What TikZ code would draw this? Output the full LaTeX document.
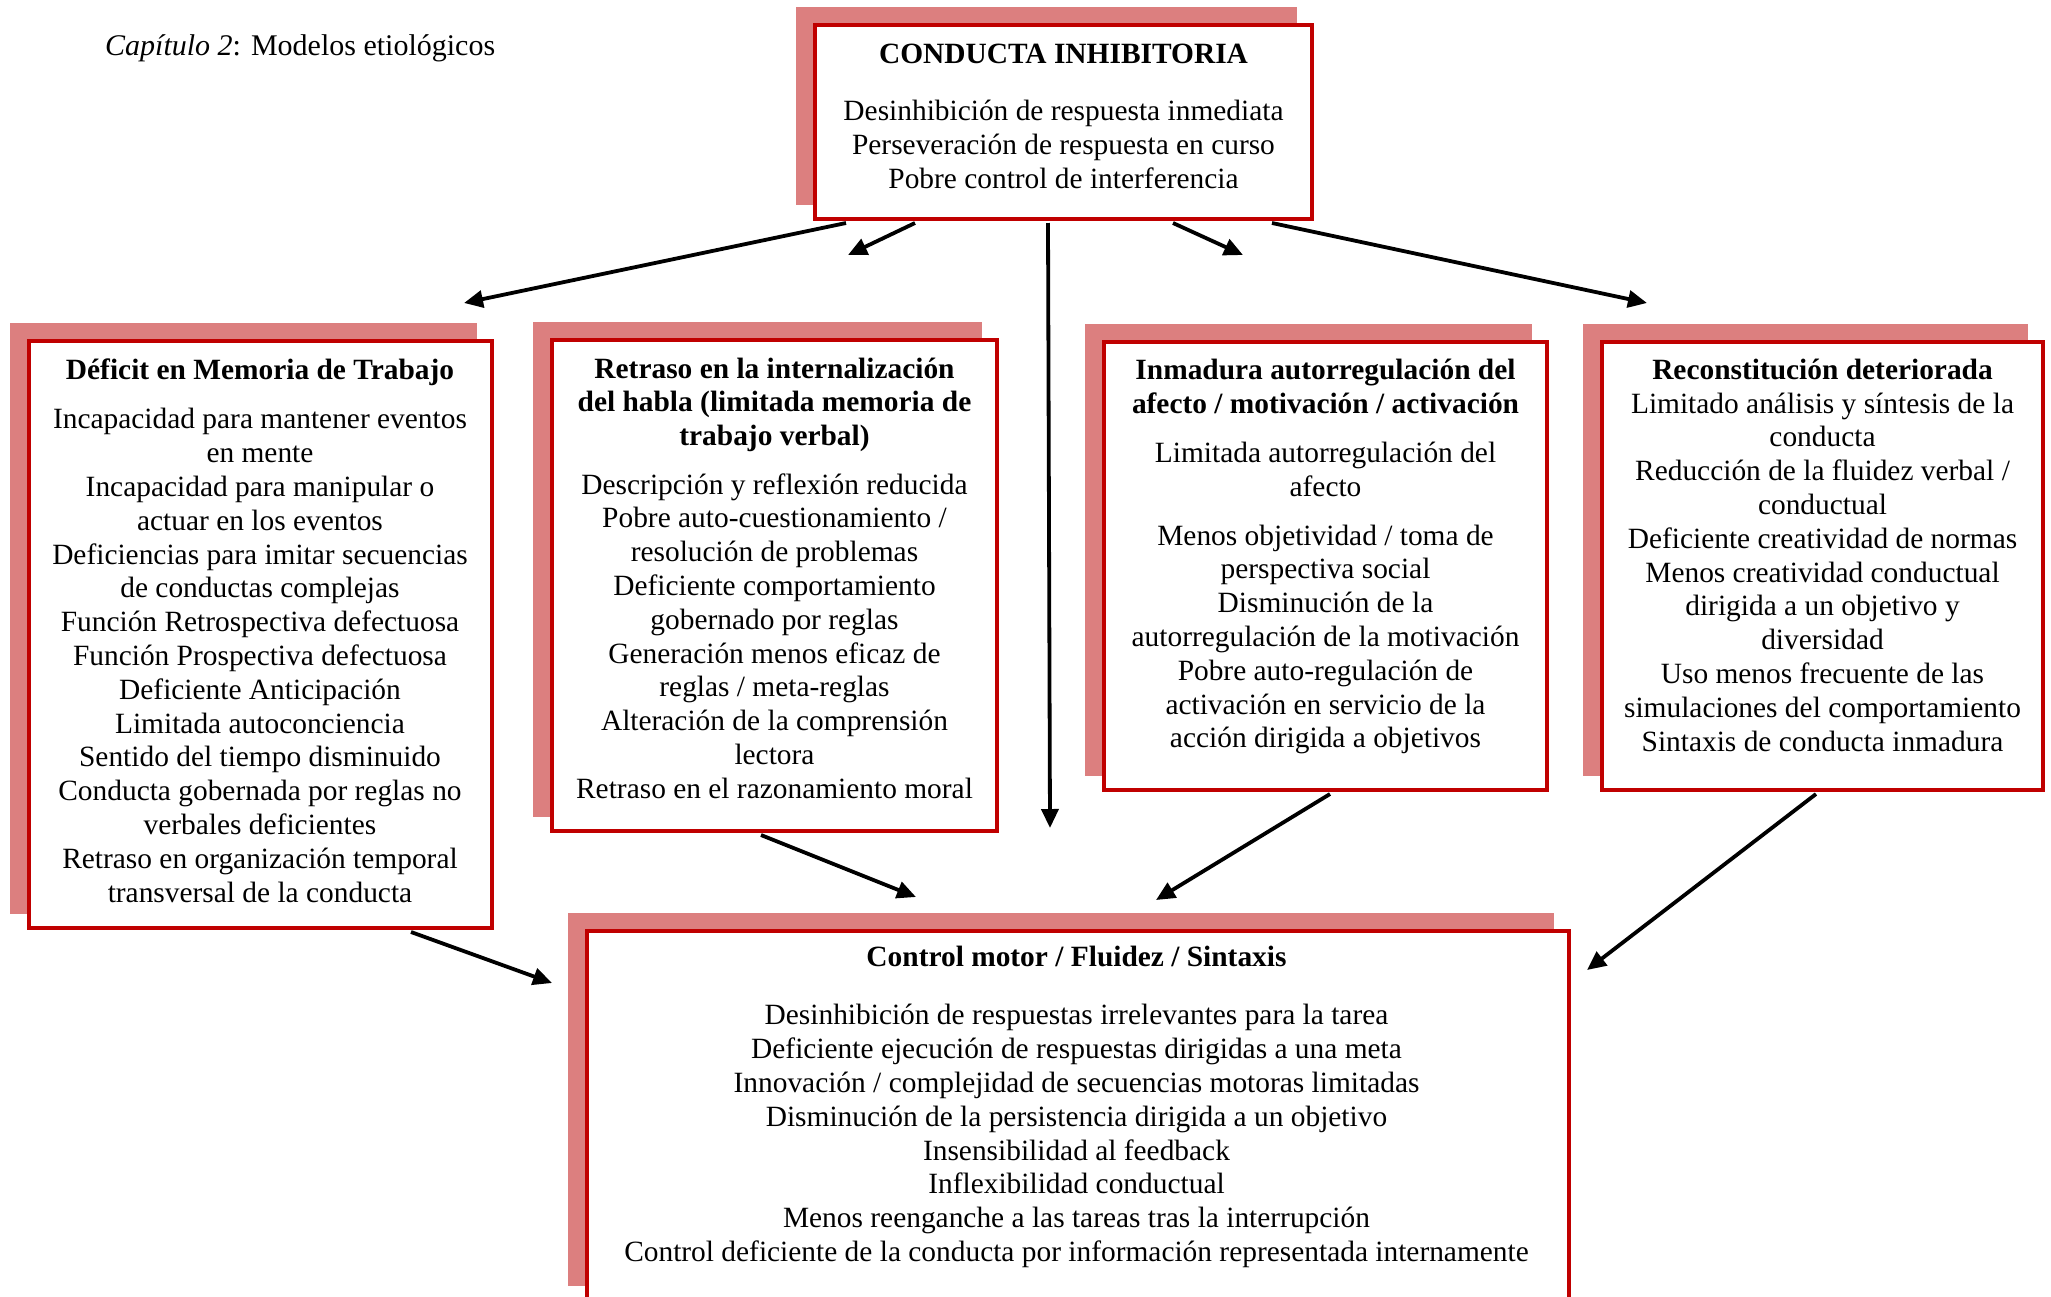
\documentclass[tikz,border=0pt]{standalone}
\usepackage{fontspec}
\setmainfont{Liberation Serif}
\usetikzlibrary{arrows.meta,calc,shadows}
\definecolor{boxred}{HTML}{C00000}
\definecolor{shadowred}{HTML}{DC7F7F}
\tikzset{
  boxstyle/.style={draw=boxred, line width=4pt, fill=white, inner sep=0pt,
    general shadow={fill=shadowred, draw=shadowred, line width=4pt,
      shadow xshift=-17pt, shadow yshift=16pt}},
  txt/.style={anchor=base, inner sep=0pt, font=\fontsize{29.4}{33.8}\selectfont},
  arr/.style={line width=3.8pt, -{Triangle[length=19pt,width=17pt]}},
}
\begin{document}
\begin{tikzpicture}[x=1pt,y=-1pt]
\useasboundingbox (0,0) rectangle (2051,1296);
\clip (0,0) rectangle (2051,1296);

\node[anchor=base west, inner sep=0pt, font=\fontsize{30}{36}\selectfont] (hdr) at (105,55)
  {\textit{Capítulo 2}: Modelos etiológicos};

% boxes
\node[boxstyle, minimum width=497pt, minimum height=194pt] (top) at (1063.5,122) {};
\node[boxstyle, minimum width=463.5pt, minimum height=587.5pt] (b1) at (260.25,634.25) {};
\node[boxstyle, minimum width=445pt, minimum height=491pt] (b2) at (774.5,585.5) {};
\node[boxstyle, minimum width=443pt, minimum height=448pt] (b3) at (1325.5,566) {};
\node[boxstyle, minimum width=441pt, minimum height=448pt] (b4) at (1822.5,566) {};
\node[boxstyle, minimum width=982pt, minimum height=369pt] (bot) at (1078,1115.5) {};

% texts
\node[txt] (ttop) at (1063.5,63) {\begin{tabular}[t]{@{}c@{}}
\textbf{CONDUCTA INHIBITORIA}\\[24pt]
Desinhibición de respuesta inmediata\\
Perseveración de respuesta en curso\\
Pobre control de interferencia
\end{tabular}};

\node[txt] (tb1) at (260,379) {\begin{tabular}[t]{@{}c@{}}
\textbf{Déficit en Memoria de Trabajo}\\[16pt]
Incapacidad para mantener eventos\\
en mente\\
Incapacidad para manipular o\\
actuar en los eventos\\
Deficiencias para imitar secuencias\\
de conductas complejas\\
Función Retrospectiva defectuosa\\
Función Prospectiva defectuosa\\
Deficiente Anticipación\\
Limitada autoconciencia\\
Sentido del tiempo disminuido\\
Conducta gobernada por reglas no\\
verbales deficientes\\
Retraso en organización temporal\\
transversal de la conducta
\end{tabular}};

\node[txt] (tb2) at (774.5,378) {\begin{tabular}[t]{@{}c@{}}
\textbf{Retraso en la internalización}\\
\textbf{del habla (limitada memoria de}\\
\textbf{trabajo verbal)}\\[14.6pt]
Descripción y reflexión reducida\\
Pobre auto-cuestionamiento /\\
resolución de problemas\\
Deficiente comportamiento\\
gobernado por reglas\\
Generación menos eficaz de\\
reglas / meta-reglas\\
Alteración de la comprensión\\
lectora\\
Retraso en el razonamiento moral
\end{tabular}};

\node[txt] (tb3) at (1325.5,379.3) {\begin{tabular}[t]{@{}c@{}}
\textbf{Inmadura autorregulación del}\\
\textbf{afecto / motivación / activación}\\[16pt]
Limitada autorregulación del\\
afecto\\[14.6pt]
Menos objetividad / toma de\\
perspectiva social\\
Disminución de la\\
autorregulación de la motivación\\
Pobre auto-regulación de\\
activación en servicio de la\\
acción dirigida a objetivos
\end{tabular}};

\node[txt] (tb4) at (1822.5,379.3) {\begin{tabular}[t]{@{}c@{}}
\textbf{Reconstitución deteriorada}\\
Limitado análisis y síntesis de la\\
conducta\\
Reducción de la fluidez verbal /\\
conductual\\
Deficiente creatividad de normas\\
Menos creatividad conductual\\
dirigida a un objetivo y\\
diversidad\\
Uso menos frecuente de las\\
simulaciones del comportamiento\\
Sintaxis de conducta inmadura
\end{tabular}};

\node[txt] (tbot) at (1076.5,966.5) {\begin{tabular}[t]{@{}c@{}}
\textbf{Control motor / Fluidez / Sintaxis}\\[24.5pt]
Desinhibición de respuestas irrelevantes para la tarea\\
Deficiente ejecución de respuestas dirigidas a una meta\\
Innovación / complejidad de secuencias motoras limitadas\\
Disminución de la persistencia dirigida a un objetivo\\
Insensibilidad al feedback\\
Inflexibilidad conductual\\
Menos reenganche a las tareas tras la interrupción\\
Control deficiente de la conducta por información representada internamente
\end{tabular}};

% arrow end points
\coordinate (e1) at (464,303);
\coordinate (e2) at (848,255);
\coordinate (e3) at (1050,828);
\coordinate (e4) at (1243,255);
\coordinate (e5) at (1647,303);
\coordinate (e6) at (552,983);
\coordinate (e7) at (916,897);
\coordinate (e8) at (1156,900);
\coordinate (e9) at (1587,970);

% arrows
\draw[arr] ($(top.south west)+(33,2)$) -- (e1);
\draw[arr] ($(top.south west)+(102,2)$) -- (e2);
\draw[arr] ($(top.south west)+(235,2)$) -- (e3);
\draw[arr] ($(top.south west)+(360,2)$) -- (e4);
\draw[arr] ($(top.south west)+(459,2)$) -- (e5);
\draw[arr] ($(b1.south west)+(384.5,2)$) -- (e6);
\draw[arr] ($(b2.south west)+(211,2)$) -- (e7);
\draw[arr] ($(b3.south west)+(228,2)$) -- (e8);
\draw[arr] ($(b4.south west)+(216,2)$) -- (e9);
\end{tikzpicture}
\end{document}
